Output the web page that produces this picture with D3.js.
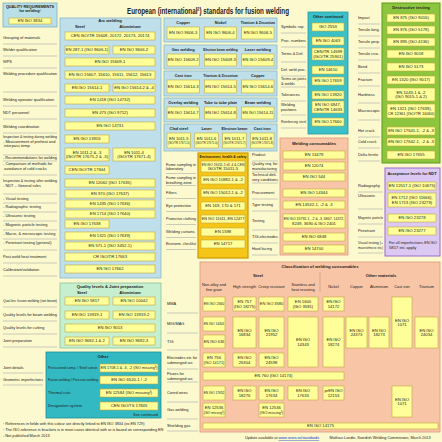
<!DOCTYPE html>
<html><head><meta charset="utf-8">
<script src="https://cdn.jsdelivr.net/npm/d3@7"></script>
<style>body{margin:0;background:#fdf9cf}svg{display:block}text{font-family:"Liberation Sans",Arial,sans-serif;fill:#222}</style>
</head><body><svg id="c" width="442" height="442"></svg>
<script>
// ---------- DATA (text content) ----------
const title = "European (international²) standards for fusion welding";
const leftLabels = ["Grouping of materials","Welder qualification","WPS","Welding procedure qualification","Welding operator qualification","NDT personnel","Welding coordination","Inspection & testing during welding|- Measurement of preheat and|  interpass temp.","- Recommendations for welding","- Comparison of methods for|  avoidance of cold cracks","Inspection & testing after welding|- NDT – General rules","- Visual testing","- Radiographic testing","- Ultrasonic testing","- Magnetic particle testing","- Macro- & microscopic testing","- Penetrant testing (general)","Post-weld heat treatment","Calibration/validation"];
const arcCells = [["CEN ISO/TR 15608, 20172, 20173, 20174","F"],["EN 287-1 (ISO 9606-1)","L"],["EN ISO 9606-2","R"],["EN ISO 15609-1","F"],["EN ISO 15607, 15610, 15611, 15612, 15613","F"],["EN ISO 15614-1","L"],["EN ISO 15614-2 & -4","R"],["EN 1418 (ISO 14732)","F"],["EN 473 (ISO 9712)","F"],["EN ISO 14731","F"],["EN ISO 13916","L"],["EN 1011-2 & -3|(ISO/TR 17671-2 & -3)","L"],["EN 1011-4|(ISO/TR 17671-4)","R"],["CEN ISO/TR 17844","L"],["EN 12062 (ISO 17635)","F"],["EN 970 (ISO 17637)","F"],["EN 1435 (ISO 17636)","F"],["EN 1714 (ISO 17640)","F"],["EN ISO 17638","L"],["EN 1321 (ISO 17639)","F"],["EN 571-1 (ISO 3452-1)","F"],["CR ISO/TR 17663","F"],["EN ISO 17662","F"]];
const midGroups = [
 [["Copper","Nickel","Titanium & Zirconium"],["EN ISO 9606-3","EN ISO 9606-4","EN ISO 9606-5"]],
 [["Gas welding","Electron beam welding","Laser welding"],["EN ISO 15609-2","EN ISO 15609-3","EN ISO 15609-4"]],
 [["Cast iron","Titanium & Zirconium","Copper"],["EN ISO 15614-3","EN ISO 15614-5","EN ISO 15614-6"]],
 [["Overlay welding","Tube to tube plate","Beam welding"],["EN ISO 15614-7","EN ISO 15614-8","EN ISO 15614-11"]],
 [["Clad steel","Laser","Electron beam","Cast iron"],["EN 1011-5|(ISO/TR 17671-5)","EN 1011-6|(ISO/TR 17671-6)","EN 1011-7|(ISO/TR 17671-7)","EN 1011-8|(ISO/TR 17671-8)"]]];
const envLabels = ["Fume sampling in|laboratory","Fume sampling in|breathing zone","Filters","Eye protection","Protective clothing","Welding curtains","Environm. checklist"];
const envItems = ["EN ISO 15011-1 till -4 & CEN|ISO/TR 15011-5","EN ISO 10882-1 & -2","EN ISO 15012-1 & -2","EN 169, 170 & 171","EN ISO 11611, EN 12477","EN 1598","EN 14717"];
const ocLabels = ["Symbolic rep.","Proc. numbers","Terms & Def.","Def. weld proc.","Terms on joints|& welds","Tolerances","Welding|positions","Reinforcing steel"];
const ocItems = ["ISO 2553","EN ISO 4063","CEN/TR 14599|(ISO/TR 25901)","EN 14610","EN ISO 17659","EN ISO 13920","EN ISO 6947,|CEN/TR 14633","EN ISO 17660"];
const wcLabels = ["Product","Quality req. for|manufacturing","Technical deli-|very conditions","Procurement","Type testing","Testing","TIG-electrodes","Hard facing"];
const wcItems = ["EN 13479","EN 12074","EN ISO 544","EN ISO 14344","EN 14532-1, -2 & -3","EN ISO 15792-1, -2 & -3, 6847, 14372,|8249, 3690 & ISO 2401","EN ISO 6848","EN 14700"];
const dtLabels = ["Impact","Tensile long.","Tensile perp.","Tensile cruc.","Bend","Fracture","Hardness","Macroscopic","Hot crack","Cold crack","Delta ferrite"];
const dtItems = ["EN 875 (ISO 9016)","EN 876 (ISO 5178)","EN 895 (ISO 4136)","EN ISO 9018","EN ISO 5173","EN 1320 (ISO 9017)","EN 1043-1 & -2|(ISO 9015-1 & 2)","EN 1321 (ISO 17639),|CR 12361 (ISO/TR 16060)","EN ISO 17641-1, -2 & -3","EN ISO 17642-1, -2 & -3","EN ISO 17655"];
const acLabels = ["Radiography","Ultrasonic","Magnetic particle","Penetrant","Visual testing (+|macro/micro etc)"];
const acItems = ["EN 12517-1 (ISO 10675)","EN 1712 (ISO 11666),|EN 1713 (ISO 23279)","EN ISO 23278","EN ISO 23277"];
const acNote = "For all imperfections EN ISO|5817 etc apply";
const qlLabels = ["Qual.lev. fusion welding (not beam)","Quality levels for beam welding","Quality levels for cutting","Joint preparation"];
const qlItems = [["EN ISO 5817","EN ISO 10042"],["EN ISO 13919-1","EN ISO 13919-2"],["EN ISO 9013"],["EN ISO 9692-1 & 2","EN ISO 9692-3"]];
const otLabels = ["Pressurized comp. / Steel constr.","Fusion welding / Pressure welding","Thermal cuts","Designation system"];
const otItems = ["EN 1708-1 & -3, -2 (ISO missing³)","EN ISO 6520-1 / -2","EN 12584 (ISO missing³)","CEN ISO/TS 17845"];
const otOuter = ["Joint details","Geometric imperfections"];
const clCols = ["Non-alloy and|fine grain","High strength","Creep resistant","Stainless and|heat resisting","Nickel","Copper","Aluminium","Cast iron","Titanium"];
const clRows = ["MMA","MIG/MAG","TIG","Electrodes etc for|submerged arc","Fluxes for|submerged arc","Cored wires","Gas welding","Shielding gas"];
// [text, col0, col1, row0, row1]
const clCells = [["EN ISO 2560",0,0,0,0],["EN 757|(ISO 18275)",1,1,0,0],["EN ISO 3580",2,2,0,0],["EN 1600|(ISO 3581)",3,3,0,0],["EN ISO|14172",4,4,0,0],
 ["EN ISO 14341",0,0,1,1],["EN ISO|16834",1,1,1,2],["EN ISO|21952",2,2,1,2],["EN ISO|14343",3,3,1,3],["EN ISO|18274",4,4,1,3],["EN ISO|24373",5,5,1,2],["EN ISO|18273",6,6,1,2],["EN ISO|1071",7,7,0,2],["EN ISO|24034",8,8,1,2],
 ["EN ISO 636",0,0,2,2],["EN 756|(ISO 14171)",0,0,3,3],["EN ISO|26304",1,1,3,3],["EN ISO|24598",2,2,3,3],["EN 760 (ISO 14174)",0,4,4,4],
 ["EN ISO 17632",0,0,5,5],["EN ISO|18276",1,1,5,5],["EN ISO|17634",2,2,5,5],["EN ISO|17633",3,3,5,5],["prEN ISO|12153",4,4,5,5],["EN ISO|1071",7,7,5,6],
 ["EN 12536|(ISO missing³)",0,0,6,6],["EN 12536|(ISO missing³)",2,2,6,6],["EN ISO 14175",0,8,7,7]];
const footnotes = ["¹ References in fields with this colour are directly linked to EN ISO 3834 (ex EN 729)","² The ISO-reference in brackets is in most cases identical with or is based on corresponding EN","³ Not published March 2013"];

// ---------- DRAWING ----------
const svg = d3.select("#c");
const FS = 4.2, LFS = 3.9;
function rect(x,y,w,h,fill,stroke,sw){svg.append("rect").attr("x",x).attr("y",y).attr("width",w).attr("height",h).attr("fill",fill).attr("stroke",stroke||"none").attr("stroke-width",sw||0.8);}
function txt(x,y,t,o){o=o||{};const ls=t.split("|");const fs=o.fs||FS;const el=svg.append("text").attr("x",x).attr("font-size",fs).attr("text-anchor",o.a||"middle").attr("font-weight",o.b?"bold":"normal");
 const y0 = o.top? y : y-(ls.length-1)*fs*1.1/2;
 ls.forEach((l,i)=>{const s=el.append("tspan").attr("x",x).attr("y",y0+i*fs*1.1+fs*0.35).text(l);if(o.maxW){const L=s.node().getComputedTextLength();if(L>o.maxW)s.attr("textLength",o.maxW).attr("lengthAdjust","spacingAndGlyphs");}});return el;}
function cell(x,y,w,h,t){rect(x,y,w,h,"#ffff99","#c2a640",0.6);txt(x+w/2,y+h/2,t,{maxW:w-1.5});}
function label(x,y,w,t,ly,top){txt(x,y,t,{a:"start",fs:LFS,top:top,maxW:w});svg.append("line").attr("x1",x).attr("x2",x+w).attr("y1",ly).attr("y2",ly).attr("stroke","#aaa").attr("stroke-width",0.6);}

// title
svg.append("text").attr("x",208).attr("y",14).attr("text-anchor","middle").attr("font-size",9.5).attr("font-weight","bold").attr("textLength",162).attr("lengthAdjust","spacingAndGlyphs").attr("fill","#333").text(title);

// quality requirements
rect(3,3,54,24,"#b9dfe9","#7fb0c4",0.8);
txt(30,9,"QUALITY REQUIREMENTS|for welding¹",{b:true,fs:3.8});
cell(9,18,42,6,"EN ISO 3834");

// left labels (y = first line position)
const leftY = [38,50,62,74,100,113,127,137,158,164,181,199,207,216,225,234,243,257,270];
const leftLine = [44,56,68,92,106,119,133,155,161,175,194,203,212,221,230,239,250,263,276];
leftLabels.forEach((t,i)=>label(3,leftY[i],54,t,leftLine[i],true));

// arc welding
rect(60,18,101,260,"#bfe0ea","#8ab8c9",0.8);
txt(110,21,"Arc welding",{b:true});txt(80,27,"Steel",{b:true});txt(130,27,"Aluminium",{b:true});
const arcRows=[[32,8],[46,8],[46,8],[58,8],[71,8],[84,8],[84,8],[96,8],[109,8],[122,8],[135,8],[148,13],[148,13],[166,8],[179,8],[190,8],[200,8],[210,8],[220,8],[232,8],[242,8],[253,8],[265,8]];
const colX = {F:[65,90],L:[65,44],R:[113,42]};
arcCells.forEach((c,i)=>{const [x,w]=colX[c[1]];cell(x,arcRows[i][0],w,arcRows[i][1],c[0]);});

// middle groups
const gY=[18,45,71,98,124], gH=[24,24,25,24,27];
midGroups.forEach((g,gi)=>{const y=gY[gi];rect(164,y,113,gH[gi],"#bfe0ea","#8ab8c9",0.8);
 const n=g[0].length;const xs=d3.scaleBand().domain(d3.range(n)).range([166,275]).paddingInner(0.08);
 g[0].forEach((h,i)=>txt(xs(i)+xs.bandwidth()/2,y+5,h,{b:true,fs:3.9,maxW:xs.bandwidth()}));
 g[1].forEach((h,i)=>cell(xs(i)+1,y+9,xs.bandwidth()-2,gH[gi]-12,h));});

// env
rect(198,153,50,105,"#f5c518","#c99a00",1.2);
txt(223,157,"Environment, health & safety",{b:true,fs:3.8,maxW:47});
const envY=[161,176,189,202,215,228,240], envH=[11,8,8,8,8,8,8];
envItems.forEach((t,i)=>cell(201,envY[i],44,envH[i],t));
envLabels.forEach((t,i)=>label(166,envY[i]+envH[i]/2,30,t,envY[i]+envH[i]+1.5));

// other continued
rect(308,12,40,122,"#3cc0c8","#1f9aa3",0.8);
txt(328,16.5,"Other continued",{b:true,fs:3.9});
const ocY=[23,37,48,66,77,91,101,118], ocH=[8,8,12,8,8,8,12,8];
ocItems.forEach((t,i)=>cell(312,ocY[i],32,ocH[i],t));
ocLabels.forEach((t,i)=>label(281,ocY[i]+ocH[i]/2,25,t,ocY[i]+ocH[i]+2));

// welding consumables
rect(280,138,68,117,"#f8c6a7","#d99a7a",0.8);
txt(314,144,"Welding consumables",{b:true});
const wcY=[151,162,173,189,201,214,233,245], wcH=[8,8,8,8,8,14,8,8];
wcItems.forEach((t,i)=>cell(283,wcY[i],62,wcH[i],t));
wcLabels.forEach((t,i)=>label(252,wcY[i]+wcH[i]/2,26,t,wcY[i]+wcH[i]+2));

// destructive testing
rect(382,3,58,160,"#8cc63f","#5a9a1e",1);
txt(411,8,"Destructive testing",{b:true});
const dtY=[14,26,38,50,63,76,88,104,127,138,151], dtH=[8,8,8,8,8,8,13,14,8,8,8];
dtItems.forEach((t,i)=>cell(387,dtY[i],48,dtH[i],t));
dtLabels.forEach((t,i)=>label(358,dtY[i]+dtH[i]/2,22,t,dtY[i]+dtH[i]+2));

// acceptance
rect(385,168,55,88,"#dcc9f3","#9a6bd0",1);
txt(412,174,"Acceptance levels for NDT",{b:true,fs:3.9});
const acY=[182,193,214,227,239], acH=[8,14,8,8,12];
acItems.forEach((t,i)=>cell(388,acY[i],48,acH[i],t));
txt(389,acY[4]+6,acNote,{a:"start",maxW:48});
acLabels.forEach((t,i)=>label(358,acY[i]+(i==1?3:acH[i]/2),25,t,acY[i]+acH[i]+2));

// quality levels
rect(60,283,101,65,"#c6efcf","#88c498",0.8);
txt(110,287,"Quality levels & Joint preparation",{b:true});txt(82,293,"Steel",{b:true});txt(130,293,"Aluminium",{b:true});
const qlY=[297,311,324,337];
qlItems.forEach((r,i)=>{if(r.length==1)cell(65,qlY[i],90,8,r[0]);else{cell(65,qlY[i],44,8,r[0]);cell(113,qlY[i],42,8,r[1]);}});
qlLabels.forEach((t,i)=>label(3,qlY[i]+4,54,t,qlY[i]+10));

// other
rect(46,352,115,66,"#33b9c1","#1f8f97",0.8);
txt(103,357,"Other",{b:true});
const otY=[364,376,389,402];
otItems.forEach((t,i)=>{cell(100,otY[i],58,8,t);txt(48,otY[i]+4,otLabels[i],{a:"start",fs:LFS,maxW:50});});
txt(158,415,"See continued",{a:"end",fs:LFS});
otOuter.forEach((t,i)=>label(3,otY[i]+4,40,t,otY[i]+9));

// footnotes
footnotes.forEach((t,i)=>txt(3,424+i*6,t,{a:"start",fs:3.8}));

// classification
rect(200,262,240,170,"#f8c6a7","#d99a7a",0.8);
txt(320,267,"Classification of welding consumables",{b:true});
txt(258,276,"Steel",{b:true});txt(381,276,"Other materials",{b:true});
svg.append("line").attr("x1",320).attr("x2",320).attr("y1",272).attr("y2",292).attr("stroke","#c08060").attr("stroke-width",0.5);
const colBounds=[[203,225],[233,256],[259,284],[288,318],[323,344],[346,367],[369,389],[392,412],[415,438]];
const rowBounds=[[297,311],[317,331],[335,348],[353,367],[372,380],[386,400],[403,417],[423,429]];
clCols.forEach((t,i)=>txt((colBounds[i][0]+colBounds[i][1])/2,287,t,{fs:3.9,maxW:colBounds[i][1]-colBounds[i][0]+3}));
clCells.forEach(c=>{const x0=colBounds[c[1]][0],x1=colBounds[c[2]][1],y0=rowBounds[c[3]][0],y1=rowBounds[c[4]][1];cell(x0,y0,x1-x0,y1-y0,c[0]);});
clRows.forEach((t,i)=>label(167,(rowBounds[i][0]+rowBounds[i][1])/2,31,t,rowBounds[i][1]+2));

// footer
const ft=svg.append("text").attr("x",245).attr("y",439).attr("font-size",3.8);ft.append("tspan").text("Update available at ");ft.append("tspan").attr("fill","#0033cc").attr("text-decoration","underline").text("www.sveis.se/standards");
txt(380,437.5,"Mathias Lundin, Swedish Welding Commission, March 2013",{fs:3.8});
</script></body></html>
